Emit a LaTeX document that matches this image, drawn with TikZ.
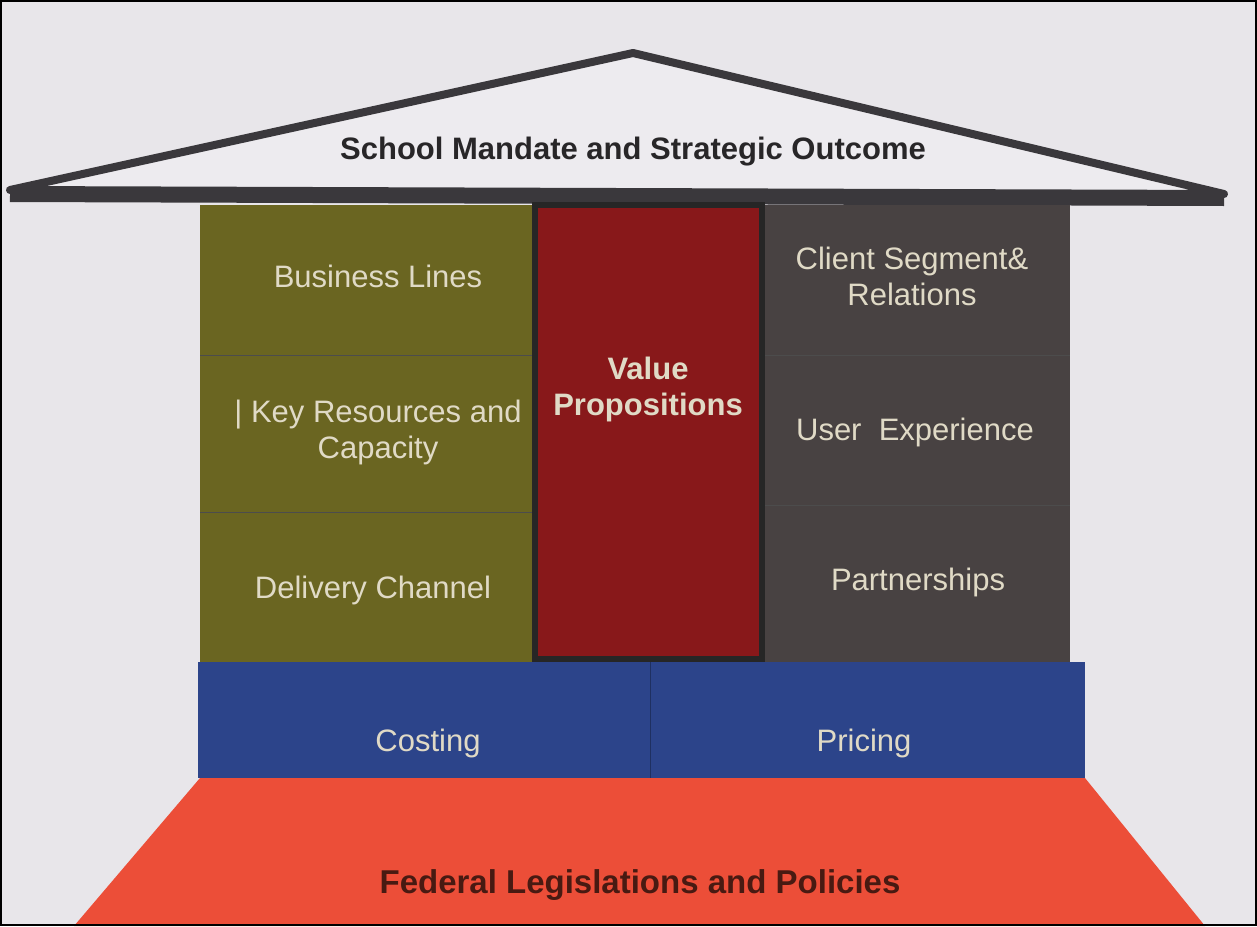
\documentclass[tikz,border=0pt]{standalone}
\usepackage{fontspec}
\setmainfont{Liberation Sans}
\usepackage{xcolor}
\usepackage{tikz}
\usetikzlibrary{positioning}

\definecolor{paper}{RGB}{232,230,234}
\definecolor{roofin}{RGB}{237,235,239}
\definecolor{roofline}{RGB}{58,56,60}
\definecolor{olive}{RGB}{106,101,33}
\definecolor{vpred}{RGB}{136,24,26}
\definecolor{slate}{RGB}{72,66,66}
\definecolor{bandblue}{RGB}{44,68,138}
\definecolor{basered}{RGB}{236,78,56}
\definecolor{celltext}{RGB}{224,218,198}
\definecolor{darktext}{RGB}{40,38,40}
\definecolor{basetext}{RGB}{72,26,18}

\tikzset{
	celltxt/.style={text=celltext, align=center, font=\fontsize{31}{36}\selectfont},
	boldtxt/.style={align=center, font=\bfseries\fontsize{31}{36}\selectfont}
}

\begin{document}
\begin{tikzpicture}[x=1pt, y=-1pt]
				\def\colL{200}
				\def\colM{532}
				\def\colR{765}
				\def\colE{1070}
				\def\top{205}
				\def\bot{662}

				\fill[paper] (0, 0) rectangle (1257, 926) ;

				% roof
				\filldraw[fill=roofin, draw=roofline, line width=8pt, line join=round] (10, 190) -- (633, 53) -- (1224, 194) -- cycle ;
				\draw[roofline, line width=12pt] (10, 196) -- (1224, 200) ;
				\node[boldtxt, text=darktext, font=\bfseries\fontsize{31}{36}\selectfont] (mandate) at (633, 152) {School Mandate and Strategic Outcome} ;

				% pillars
				\fill[olive] (\colL, \top) rectangle (\colM, \bot) ;
				\fill[slate] (\colR, \top) rectangle (\colE, \bot) ;
				\filldraw[fill=vpred, draw=black!85, line width=6pt] (\colM + 3, \top) rectangle (\colR - 3, \bot - 3) ;
				\draw[black!70, thick] (\colL, 355) -- (\colM, 355) (\colL, 512) -- (\colM, 512) ;
				\draw[black!70, thick] (\colR, 355) -- (\colE, 355) (\colR, 505) -- (\colE, 505) ;

				\node[celltxt] (business) at (378, 276) {Business Lines} ;
				\node[celltxt] (resources) at (378, 432) {| Key Resources and\\Capacity} ;
				\node[celltxt] (delivery) at (373, 590) {Delivery Channel} ;
				\node[boldtxt, text=celltext] (value) at (648, 389) {Value\\Propositions} ;
				\node[celltxt] (client) at (912, 276) {Client Segment\&\\Relations} ;
				\node[celltxt] (user) at (915, 432) {User\ \ Experience} ;
				\node[celltxt] (partners) at (918, 582) {Partnerships} ;

				% pricing band
				\fill[bandblue] (198, \bot) rectangle (1085, 778) ;
				\draw[bandblue!70!black] (650, \bot) -- (650, 778) ;
				\node[celltxt] (costing) at (428, 743) {Costing} ;
				\node[celltxt] (pricing) at (864, 743) {Pricing} ;

				% foundation
				\fill[basered] (200, 778) -- (1085, 778) -- (1205, 926) -- (74, 926) -- cycle ;
				\node[boldtxt, text=basetext, font=\bfseries\fontsize{33}{38}\selectfont] (federal) at (640, 885) {Federal Legislations and Policies} ;

				\draw[black, line width=2pt] (1, 1) rectangle (1256, 925) ;
			\end{tikzpicture}
\end{document}
